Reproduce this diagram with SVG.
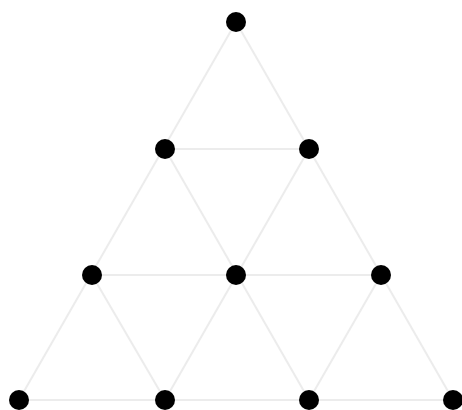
<svg xmlns="http://www.w3.org/2000/svg" width="462" height="410" viewBox="0 0 462 410">
<style>
.e{stroke:#ececec;stroke-width:2;fill:none}
.n{fill:#000}
</style>
<rect width="462" height="410" fill="#fff"/>
<g id="connectors">
<line class="e" x1="236" y1="22" x2="19" y2="400"/>
<line class="e" x1="236" y1="22" x2="453" y2="400"/>
<line class="e" x1="165" y1="149" x2="309" y2="149"/>
<line class="e" x1="92" y1="275" x2="381" y2="275"/>
<line class="e" x1="19" y1="400" x2="453" y2="400"/>
<line class="e" x1="165" y1="149" x2="309" y2="400"/>
<line class="e" x1="92" y1="275" x2="165" y2="400"/>
<line class="e" x1="309" y1="149" x2="165" y2="400"/>
<line class="e" x1="381" y1="275" x2="309" y2="400"/>
</g>
<g id="n1"><circle class="n" cx="236" cy="22" r="10"/></g>
<g id="n2"><circle class="n" cx="165" cy="149" r="10"/></g>
<g id="n3"><circle class="n" cx="309" cy="149" r="10"/></g>
<g id="n4"><circle class="n" cx="92" cy="275" r="10"/></g>
<g id="n5"><circle class="n" cx="236" cy="275" r="10"/></g>
<g id="n6"><circle class="n" cx="381" cy="275" r="10"/></g>
<g id="n7"><circle class="n" cx="19" cy="400" r="10"/></g>
<g id="n8"><circle class="n" cx="165" cy="400" r="10"/></g>
<g id="n9"><circle class="n" cx="309" cy="400" r="10"/></g>
<g id="n10"><circle class="n" cx="453" cy="400" r="10"/></g>
</svg>
